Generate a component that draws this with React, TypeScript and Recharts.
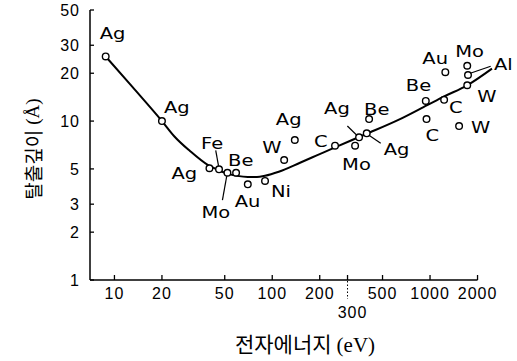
import React from 'react';
import { ComposedChart, Line, Scatter, XAxis, YAxis, ReferenceLine } from 'recharts';

// ---- data ----
const curveEnergy = [8.8, 13, 20, 24, 30, 39, 46, 52, 60, 70, 80, 90, 110, 150, 190, 250, 390, 640, 960, 1230, 1720, 2470];
const curveDepth = [25.5, 16.4, 10, 8.0, 6.5, 5.3, 4.9, 4.67, 4.52, 4.45, 4.45, 4.53, 4.8, 5.47, 6.06, 6.83, 8.26, 10.25, 12.6, 14.3, 16.8, 21.4];

const pointElement = ['Ag', 'Ag', 'Ag', 'Fe', 'Mo', 'Be', 'Au', 'Ni', 'W', 'Ag', 'C', 'Mo', 'Ag', 'Ag', 'Be', 'Be', 'C', 'C', 'Au', 'W', 'Mo', 'Al', 'W'];
const pointEnergy = [8.8, 20, 40, 46, 52, 59, 70, 90, 119, 139, 250, 335, 355, 397, 411, 940, 950, 1228, 1250, 1528, 1721, 1740, 1721];
const pointDepth = [25.5, 10, 5.05, 4.97, 4.73, 4.73, 4.0, 4.2, 5.69, 7.6, 7.0, 7.0, 7.9, 8.37, 10.3, 13.4, 10.3, 13.6, 20.3, 9.3, 22.3, 19.5, 16.8];

const xTicks = [10, 20, 50, 100, 200, 300, 500, 1000, 2000];
const yTicks = [1, 2, 3, 5, 10, 20, 30, 50];

const xTitle = '전자에너지';
const xUnit = '(eV)';
const yTitle = '탈출깊이';
const yUnit = '(Å)';

// ---- label layout (pixel offsets of each label from its point) ----
const labelOffset: [number, number][] = [
  [-6, -17], [2, -8], [-38, 11], [-18, -20], [-26, 45], [-8, -7], [-13, 23], [6, 16],
  [-22, -7], [-19, -15], [-21, 1], [-13, 24], [-35, -23], [17, 22], [-5, -4], [-20, -10],
  [-1, 22], [5, 13], [-23, -8], [12, 7], [-12, -9], [26, -5], [10, 17],
];
const leaders: Record<number, [number, number, number, number]> = {
  3: [-3.3, -19, -0.5, -3.5],
  4: [-0.7, 3.3, -5, 27.3],
  12: [-11.7, -11.3, -2.5, -2.3],
  13: [2.6, 2.2, 14, 10],
  21: [3, -2, 22.7, -8.7],
};

const curveTable = curveEnergy.map((e, i) => ({ e, d: curveDepth[i] }));
const pointTable = pointEnergy.map((e, i) => ({ e, d: pointDepth[i], name: pointElement[i], idx: i }));

const tickFont = { fontFamily: '"Liberation Sans", Arial, sans-serif', fontSize: 16, fill: '#000', letterSpacing: 1 };

const PointShape = (props: any) => {
  const { cx, cy, payload } = props;
  if (cx == null || cy == null) return null;
  const i = payload.idx;
  const [dx, dy] = labelOffset[i];
  const ld = leaders[i];
  return (
    <g>
      {ld && (
        <line x1={cx + ld[0]} y1={cy + ld[1]} x2={cx + ld[2]} y2={cy + ld[3]} stroke="#000" strokeWidth={1.2} />
      )}
      <circle cx={cx} cy={cy} r={3.3} fill="#fff" stroke="#000" strokeWidth={1.4} />
      <text
        transform={`translate(${cx + dx},${cy + dy}) scale(1.3,1)`}
        x={0}
        y={0}
        fontFamily='"DejaVu Sans", sans-serif'
        fontSize={15}
        fill="#000"
      >
        {payload.name}
      </text>
    </g>
  );
};

const XTick = (props: any) => {
  const { x, y, payload } = props;
  const v = payload.value;
  if (v === 300) {
    return (
      <g>
        <line x1={x} x2={x} y1={y - 6} y2={y + 12} stroke="#000" strokeWidth={1} strokeDasharray="1.5 2" />
        <text x={x + 5} y={y + 31} textAnchor="middle" {...tickFont}>
          {v}
        </text>
      </g>
    );
  }
  return (
    <text x={x} y={y + 11.5} textAnchor="middle" {...tickFont}>
      {v}
    </text>
  );
};

export default function App() {
  return (
    <div style={{ position: 'absolute', left: 0, top: 0, width: 517, height: 361, background: '#fff' }}>
      <ComposedChart width={517} height={361} margin={{ top: 10, right: 25, bottom: 41, left: 30 }}>
        <XAxis
          dataKey="e"
          type="number"
          scale="log"
          domain={[7, 2470]}
          ticks={xTicks}
          axisLine={false}
          tickLine={{ stroke: '#000', strokeWidth: 1.3 }}
          tickSize={-5}
          tickMargin={12}
          tick={<XTick />}
          height={40}
          interval={0}
        />
        <YAxis
          type="number"
          scale="log"
          domain={[1, 50]}
          ticks={yTicks}
          axisLine={{ stroke: '#000', strokeWidth: 1.5 }}
          tickLine={{ stroke: '#000', strokeWidth: 1.3 }}
          tickSize={-4}
          tickMargin={14}
          tick={tickFont}
          width={60}
          interval={0}
        />
        <ReferenceLine
          segment={[{ x: 7, y: 1 }, { x: 2000, y: 1 }]}
          stroke="#000"
          strokeWidth={1.5}
        />
        <Line
          data={curveTable}
          dataKey="d"
          type="monotone"
          stroke="#000"
          strokeWidth={2}
          dot={false}
          activeDot={false}
          isAnimationActive={false}
        />
        <Scatter data={pointTable} dataKey="d" shape={<PointShape />} isAnimationActive={false} />
        <text
          x={305}
          y={352}
          textAnchor="middle"
          fontFamily='"Noto Sans CJK KR", sans-serif'
          fontSize={21}
          fill="#000"
        >
          {xTitle}
          <tspan fontFamily='"Liberation Serif", serif' dx={5}>{xUnit}</tspan>
        </text>
        <text
          transform="translate(32,149) rotate(-90)"
          x={0}
          y={0}
          textAnchor="middle"
          dominantBaseline="central"
          fontFamily='"Noto Sans CJK KR", sans-serif'
          fontSize={19}
          fill="#000"
        >
          {yTitle}
          <tspan fontFamily='"Liberation Serif", serif' dx={5}>{yUnit}</tspan>
        </text>
      </ComposedChart>
    </div>
  );
}
